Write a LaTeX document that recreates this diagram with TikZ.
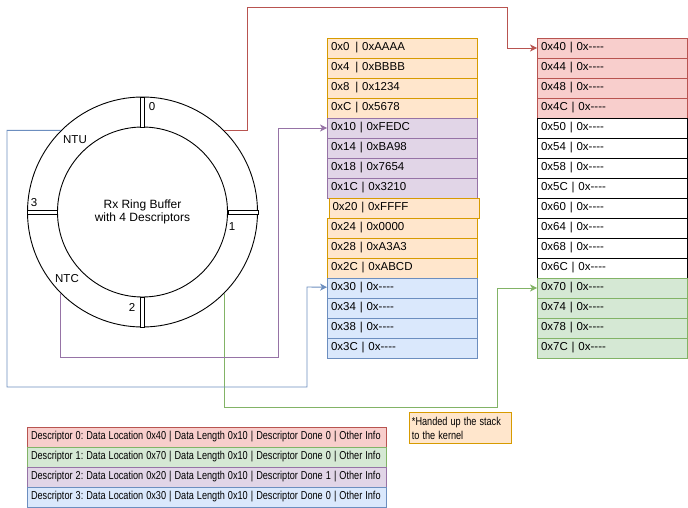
\documentclass[tikz,border=0pt]{standalone}
\usepackage{fontspec}
\usepackage{graphicx}
\setmainfont{Liberation Sans}[Ligatures=TeXOff]
\usetikzlibrary{arrows.meta}
\frenchspacing

\definecolor{kfill}{HTML}{FFE6CC}  \definecolor{kline}{HTML}{D79B00}
\definecolor{d0fill}{HTML}{F8CECC} \definecolor{d0line}{HTML}{B85450}
\definecolor{d1fill}{HTML}{D5E8D4} \definecolor{d1line}{HTML}{82B366}
\definecolor{d2fill}{HTML}{E1D5E7} \definecolor{d2line}{HTML}{9673A6}
\definecolor{d3fill}{HTML}{DAE8FC} \definecolor{d3line}{HTML}{6C8EBF}

\newcommand\lowadr[1]{\makebox[1.78em][l]{#1}}
\newcommand\narrow[1]{\scalebox{0.795}[1]{#1}}

\tikzset{
  every node/.style={font=\fontsize{11.5}{14}\selectfont, inner sep=1pt},
  cell/.style={rectangle, minimum height=20pt, text width=143pt,
    inner xsep=3.5pt, inner ysep=0pt, align=left},
  kernel/.style={fill=kfill, draw=kline},
  kerneloff/.style={kernel, xshift=1.5pt},
  d0/.style={fill=d0fill, draw=d0line},
  d1/.style={fill=d1fill, draw=d1line},
  d2/.style={fill=d2fill, draw=d2line},
  d3/.style={fill=d3fill, draw=d3line},
  empty/.style={fill=white, draw=black},
  legend/.style={rectangle, minimum height=20pt, text width=351pt,
    inner xsep=4pt, inner ysep=0pt, align=left},
  gap/.style={draw, fill=white, inner sep=0pt},
  link/.style={-{Stealth[length=7pt,width=7pt,inset=2pt]}}
}

\begin{document}
\begin{tikzpicture}[x=1pt, y=-1pt, line width=0.9pt]
      \useasboundingbox (0,0) rectangle (688,508);

      % ring buffer
      \node [circle, draw, minimum size=230pt, inner sep=0pt] (ring) at (142.5,212) {};
      \node [circle, draw, minimum size=170pt, inner sep=0pt] (hub) at (142.5,212) {};
      \node [align=center, font=\fontsize{12}{13.5}\selectfont] (title) at (142.5,212)
        {Rx Ring Buffer\\with 4 Descriptors};
      \foreach \n/\x/\y/\w/\h in {g0/142.5/112/4/30, g1/243/212/30/4,
                                  g2/142.5/312/4/30, g3/42/212/30/4}
        \node [gap, minimum width=\w pt, minimum height=\h pt] (\n) at (\x,\y) {};
      \node (lab0) at (152,107) {0};
      \node (lab1) at (232,227) {1};
      \node (lab2) at (132,307) {2};
      \node (lab3) at (34,203) {3};
      \node (ntu) at (75,140) {NTU};
      \node (ntc) at (67,279) {NTC};

      % memory 0x0 - 0x3C
      \foreach \i/\adr/\val/\kind in {0/\lowadr{0x0}/0xAAAA/kernel, 1/\lowadr{0x4}/0xBBBB/kernel,
          2/\lowadr{0x8}/0x1234/kernel, 3/0xC/0x5678/kernel,
          4/0x10/0xFEDC/d2, 5/0x14/0xBA98/d2, 6/0x18/0x7654/d2, 7/0x1C/0x3210/d2,
          8/0x20/0xFFFF/kerneloff, 9/0x24/0x0000/kernel, 10/0x28/0xA3A3/kernel, 11/0x2C/0xABCD/kernel,
          12/0x30/0x----/d3, 13/0x34/0x----/d3, 14/0x38/0x----/d3, 15/0x3C/0x----/d3}
        \node [cell, \kind] (L\i) at (402.5,48+20*\i) {\adr\ | \val};

      % memory 0x40 - 0x7C
      \foreach \i/\adr/\kind in {0/0x40/d0, 1/0x44/d0, 2/0x48/d0, 3/0x4C/d0,
          4/0x50/empty, 5/0x54/empty, 6/0x58/empty, 7/0x5C/empty,
          8/0x60/empty, 9/0x64/empty, 10/0x68/empty, 11/0x6C/empty,
          12/0x70/d1, 13/0x74/d1, 14/0x78/d1, 15/0x7C/d1}
        \node [cell, \kind] (R\i) at (612.5,48+20*\i) {\adr\ | 0x----};

      % descriptor pointers
      \draw [link, d0line] (ring.45) -| (247,7) -| (507,48) -- (R0);
      \draw [link, d1line] (ring.315) |- (497,407) |- (R12);
      \draw [link, d2line] (ring.225) |- (278,357) |- (L4);
      \draw [link, d3line] (ring.135) -| (7,387) -| (307,287) -- (L12);

      % descriptor table
      \foreach \i/\loc/\done in {0/0x40/0, 1/0x70/0, 2/0x20/1, 3/0x30/0}
        \node [legend, d\i] (desc\i) at (206.5,437+20*\i)
          {\narrow{Descriptor \i: Data Location \loc\ | Data Length 0x10 | Descriptor Done \done\ | Other Info}};

      \node [kernel, rectangle, anchor=north west, minimum height=31pt, text width=97pt,
        inner xsep=2.5pt, inner ysep=2pt, align=left] (note) at (409,412)
        {\narrow{*Handed up the stack}\\\narrow{to the kernel}};
    \end{tikzpicture}
\end{document}
